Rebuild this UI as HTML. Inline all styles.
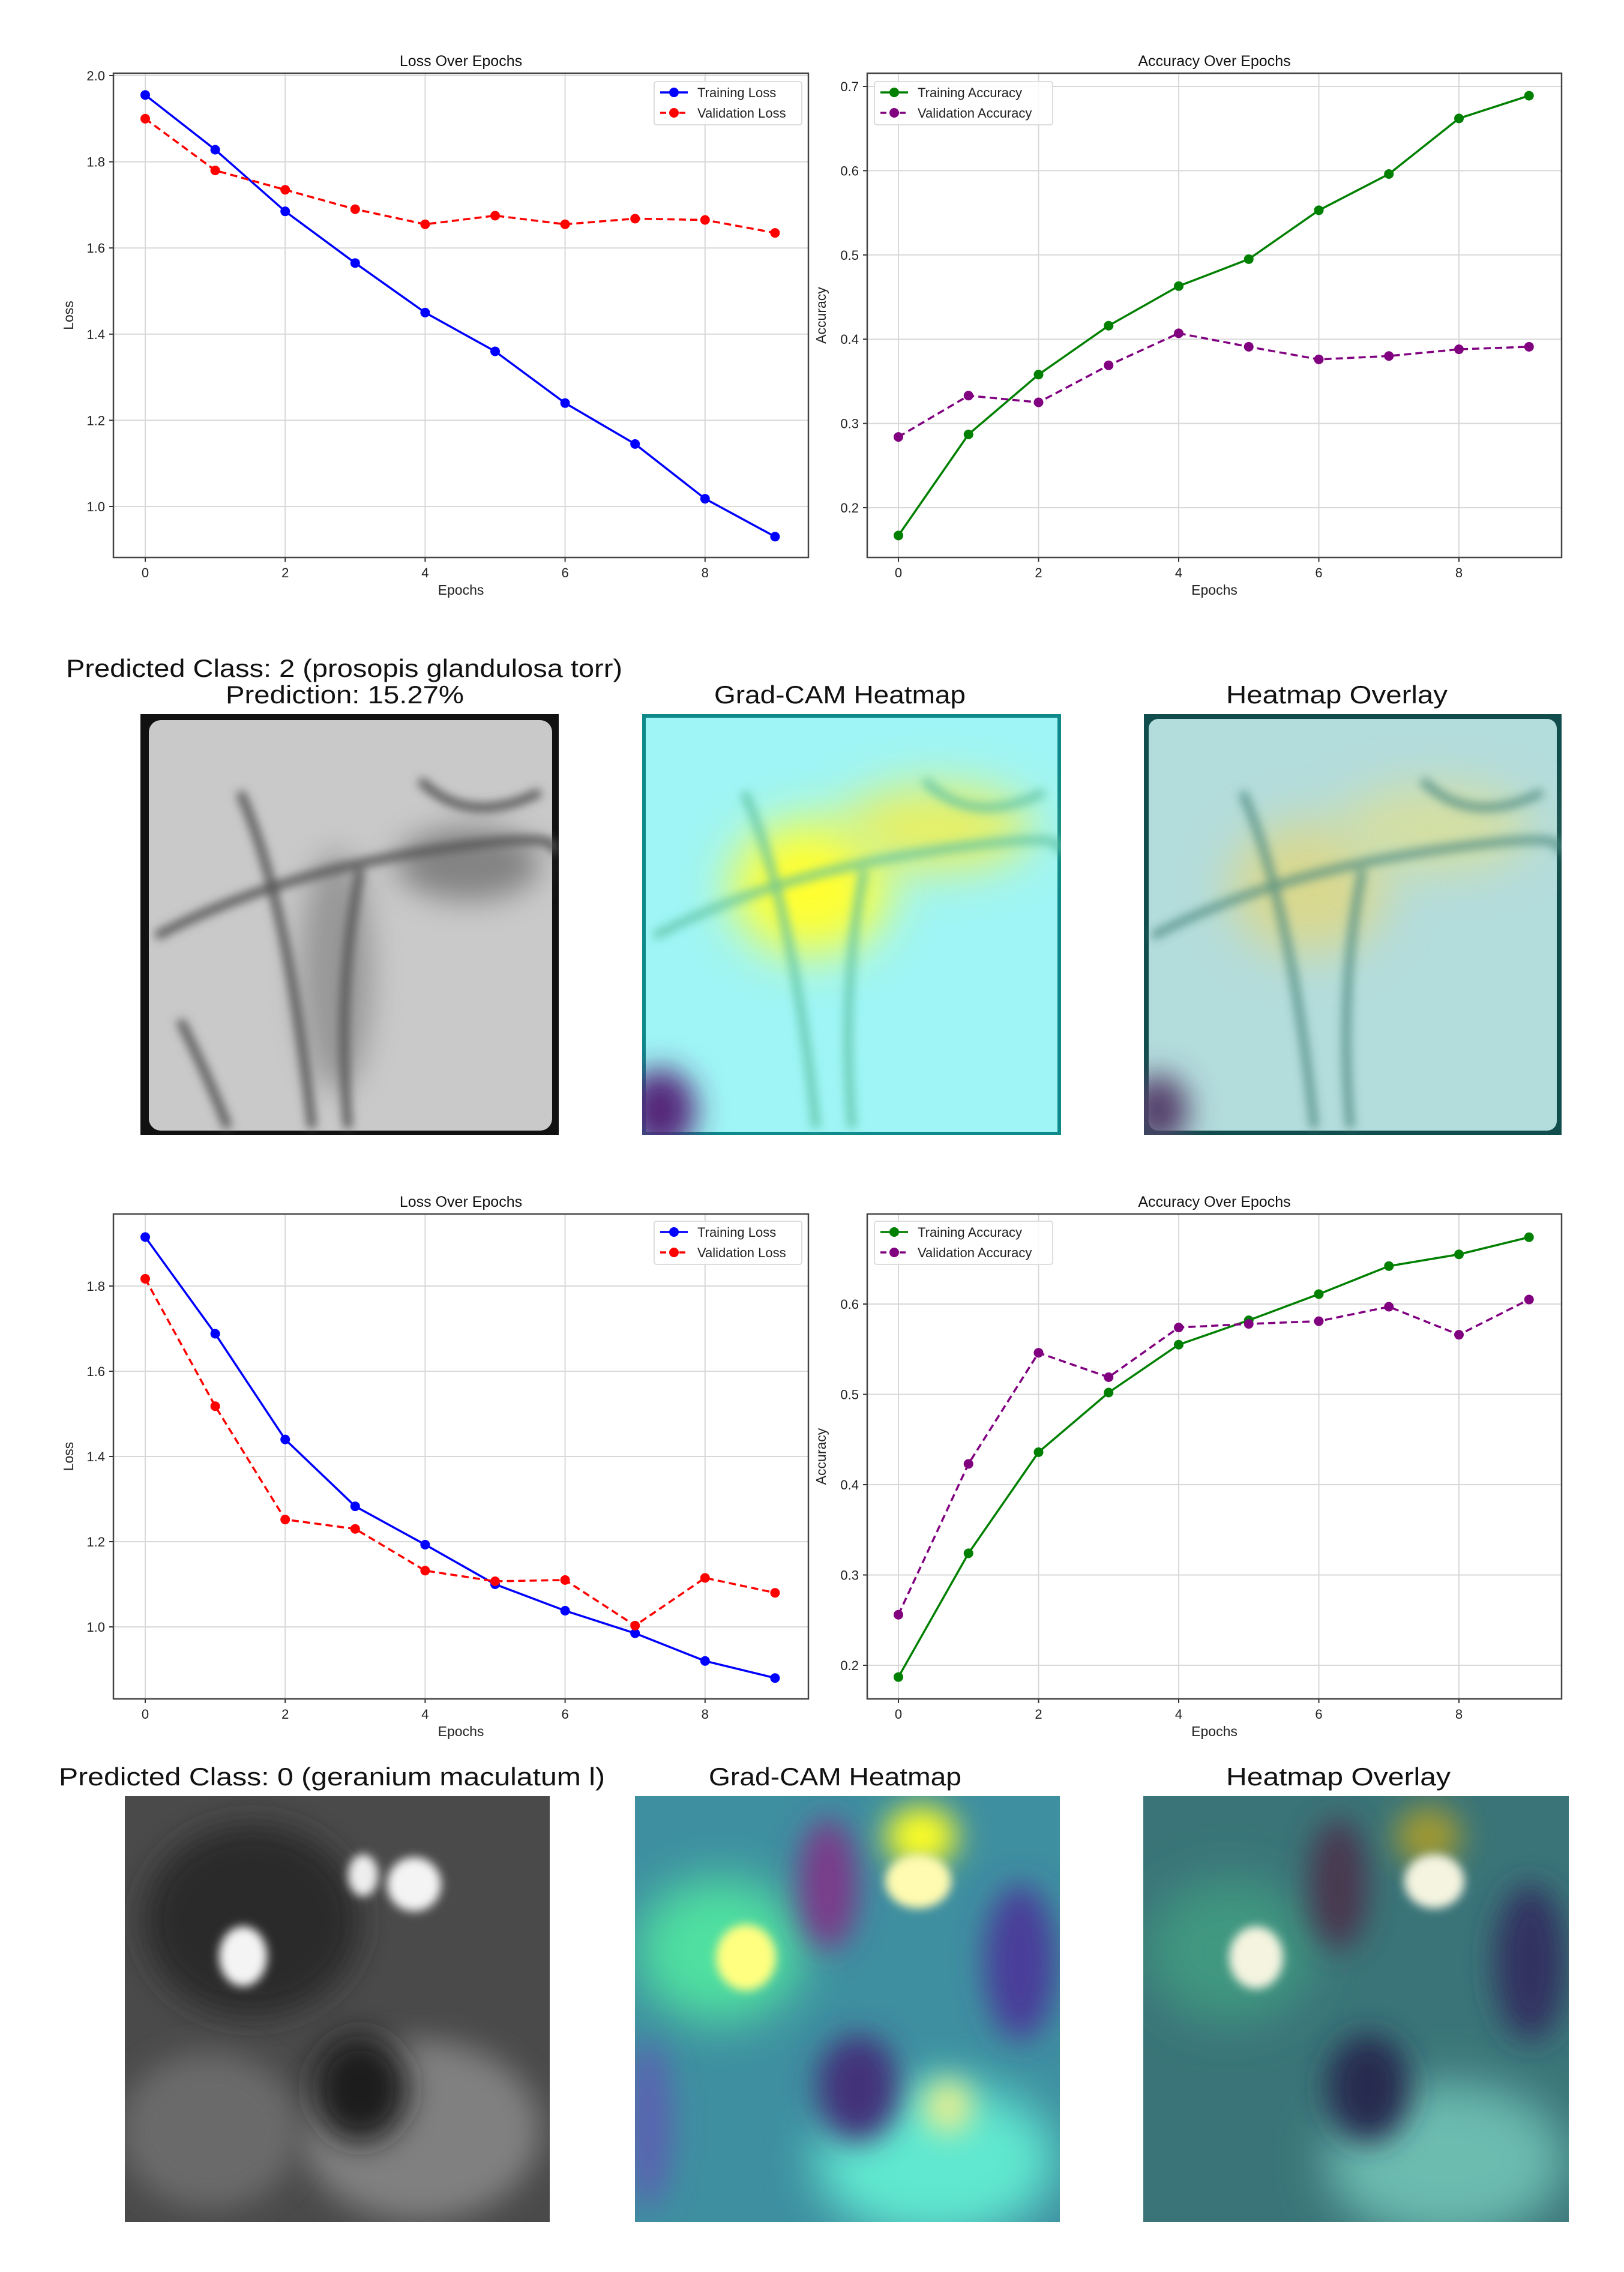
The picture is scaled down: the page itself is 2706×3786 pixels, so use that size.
<!DOCTYPE html>
<html><head><meta charset="utf-8"><style>
html,body{margin:0;padding:0;background:#fff;}
svg{display:block;font-family:"Liberation Sans","DejaVu Sans",sans-serif;}
</style></head><body>
<svg id="fig" width="2706" height="3786" viewBox="0 0 2706 3786" xmlns="http://www.w3.org/2000/svg">
<defs>
<filter id="blur8" x="-100%" y="-100%" width="300%" height="300%"><feGaussianBlur stdDeviation="8"/></filter>
<filter id="blur25" x="-100%" y="-100%" width="300%" height="300%"><feGaussianBlur stdDeviation="25"/></filter>
<filter id="blur40" x="-100%" y="-100%" width="300%" height="300%"><feGaussianBlur stdDeviation="40"/></filter>
<clipPath id="c1"><rect x="234" y="1190" width="697" height="701"/></clipPath>
<clipPath id="c2"><rect x="1070" y="1190" width="698" height="701"/></clipPath>
<clipPath id="c3"><rect x="1906" y="1190" width="696" height="701"/></clipPath>
<clipPath id="c4"><rect x="208" y="2993" width="708" height="710"/></clipPath>
<clipPath id="c5"><rect x="1058" y="2993" width="708" height="710"/></clipPath>
<clipPath id="c6"><rect x="1905" y="2993" width="709" height="710"/></clipPath>
</defs>
<g id="charts"></g>

<!-- Row 2 titles -->
<text x="110" y="1128" font-size="42" textLength="927" lengthAdjust="spacingAndGlyphs" fill="#111">Predicted Class: 2 (prosopis glandulosa torr)</text>
<text x="376" y="1172" font-size="42" textLength="397" lengthAdjust="spacingAndGlyphs" fill="#111">Prediction: 15.27%</text>
<text x="1190" y="1172" font-size="42" textLength="419" lengthAdjust="spacingAndGlyphs" fill="#111">Grad-CAM Heatmap</text>
<text x="2043" y="1172" font-size="42" textLength="369" lengthAdjust="spacingAndGlyphs" fill="#111">Heatmap Overlay</text>

<!-- Row 2 images -->
<g clip-path="url(#c1)">
<rect x="234" y="1190" width="697" height="701" fill="#111"/>
<rect x="248" y="1200" width="672" height="684" rx="20" fill="#c9c9c9"/>
<ellipse cx="780" cy="1440" rx="120" ry="60" fill="#666" filter="url(#blur25)" opacity="0.7"/>
<ellipse cx="560" cy="1620" rx="60" ry="200" fill="#777" filter="url(#blur25)" opacity="0.6"/>
<g filter="url(#blur8)" stroke="#555" fill="none" stroke-width="14">
<path d="M260 1560 Q450 1460 700 1420 T920 1420"/>
<path d="M400 1320 Q480 1500 520 1880"/>
<path d="M600 1450 Q560 1650 580 1880"/>
<path d="M700 1300 Q780 1380 900 1320"/>
<path d="M300 1700 Q350 1800 380 1880"/>
</g>
</g>
<g clip-path="url(#c2)">
<rect x="1070" y="1190" width="698" height="701" fill="#0e8a8a"/>
<rect x="1076" y="1196" width="686" height="690" fill="#9ff5f5"/>
<ellipse cx="1350" cy="1480" rx="130" ry="110" fill="#ffff33" filter="url(#blur40)"/>
<ellipse cx="1560" cy="1380" rx="160" ry="70" fill="#e8f060" filter="url(#blur40)"/>
<ellipse cx="1100" cy="1850" rx="60" ry="70" fill="#55267a" filter="url(#blur25)"/>
<g filter="url(#blur8)" stroke="#5cc0a0" fill="none" stroke-width="14" opacity="0.8">
<path d="M1090 1560 Q1280 1460 1540 1420 T1760 1420"/>
<path d="M1240 1320 Q1320 1500 1360 1880"/>
<path d="M1440 1450 Q1400 1650 1420 1880"/>
<path d="M1540 1300 Q1620 1380 1740 1320"/>
</g>
</g>
<g clip-path="url(#c3)">
<rect x="1906" y="1190" width="696" height="701" fill="#124d4d"/>
<rect x="1914" y="1198" width="680" height="686" rx="16" fill="#b3dcdc"/>
<ellipse cx="2180" cy="1480" rx="130" ry="110" fill="#d8d890" filter="url(#blur40)"/>
<ellipse cx="2390" cy="1380" rx="160" ry="70" fill="#d5dfa0" filter="url(#blur40)"/>
<ellipse cx="1930" cy="1850" rx="50" ry="60" fill="#55406a" filter="url(#blur25)"/>
<g filter="url(#blur8)" stroke="#4d8a80" fill="none" stroke-width="14" opacity="0.8">
<path d="M1920 1560 Q2110 1460 2370 1420 T2595 1420"/>
<path d="M2070 1320 Q2150 1500 2190 1880"/>
<path d="M2270 1450 Q2230 1650 2250 1880"/>
<path d="M2370 1300 Q2450 1380 2570 1320"/>
</g>
</g>

<!-- Row 4 titles -->
<text x="98" y="2975" font-size="42" textLength="910" lengthAdjust="spacingAndGlyphs" fill="#111">Predicted Class: 0 (geranium maculatum l)</text>
<text x="1181" y="2975" font-size="42" textLength="421" lengthAdjust="spacingAndGlyphs" fill="#111">Grad-CAM Heatmap</text>
<text x="2043" y="2975" font-size="42" textLength="374" lengthAdjust="spacingAndGlyphs" fill="#111">Heatmap Overlay</text>

<!-- Row 4 images -->
<g clip-path="url(#c4)">
<rect x="208" y="2993" width="708" height="710" fill="#4a4a4a"/>
<ellipse cx="420" cy="3200" rx="180" ry="160" fill="#2a2a2a" filter="url(#blur25)"/>
<ellipse cx="700" cy="3550" rx="200" ry="150" fill="#808080" filter="url(#blur25)"/>
<ellipse cx="350" cy="3550" rx="150" ry="130" fill="#6a6a6a" filter="url(#blur25)"/>
<ellipse cx="600" cy="3480" rx="80" ry="90" fill="#1c1c1c" filter="url(#blur25)"/>
<ellipse cx="690" cy="3140" rx="45" ry="45" fill="#f4f4f4" filter="url(#blur8)"/>
<ellipse cx="605" cy="3125" rx="25" ry="35" fill="#eee" filter="url(#blur8)"/>
<ellipse cx="405" cy="3260" rx="40" ry="50" fill="#f4f4f4" filter="url(#blur8)"/>
</g>
<g clip-path="url(#c5)">
<rect x="1058" y="2993" width="708" height="710" fill="#3e8fa0"/>
<ellipse cx="1200" cy="3250" rx="140" ry="120" fill="#50e0a0" filter="url(#blur40)"/>
<ellipse cx="1560" cy="3600" rx="200" ry="130" fill="#60e8d0" filter="url(#blur40)"/>
<ellipse cx="1380" cy="3140" rx="50" ry="110" fill="#7a3a8a" filter="url(#blur25)"/>
<ellipse cx="1700" cy="3270" rx="60" ry="130" fill="#4a3e9a" filter="url(#blur25)"/>
<ellipse cx="1430" cy="3480" rx="70" ry="90" fill="#42307a" filter="url(#blur25)"/>
<ellipse cx="1080" cy="3540" rx="40" ry="140" fill="#5a64b0" filter="url(#blur25)"/>
<ellipse cx="1535" cy="3060" rx="60" ry="50" fill="#ffff20" filter="url(#blur25)"/>
<ellipse cx="1530" cy="3135" rx="55" ry="45" fill="#fffbb0" filter="url(#blur8)"/>
<ellipse cx="1243" cy="3262" rx="50" ry="55" fill="#ffff80" filter="url(#blur8)"/>
<ellipse cx="1580" cy="3510" rx="40" ry="45" fill="#e8f090" filter="url(#blur25)"/>
</g>
<g clip-path="url(#c6)">
<rect x="1905" y="2993" width="709" height="710" fill="#3a7478"/>
<ellipse cx="2050" cy="3250" rx="140" ry="120" fill="#3f9880" filter="url(#blur40)"/>
<ellipse cx="2410" cy="3600" rx="200" ry="130" fill="#6cbcb0" filter="url(#blur40)"/>
<ellipse cx="2230" cy="3140" rx="50" ry="110" fill="#4a3850" filter="url(#blur25)"/>
<ellipse cx="2550" cy="3270" rx="60" ry="130" fill="#303060" filter="url(#blur25)"/>
<ellipse cx="2280" cy="3480" rx="70" ry="90" fill="#252a50" filter="url(#blur25)"/>
<ellipse cx="2380" cy="3060" rx="55" ry="50" fill="#a09a30" filter="url(#blur25)"/>
<ellipse cx="2390" cy="3135" rx="50" ry="45" fill="#f4f4e0" filter="url(#blur8)"/>
<ellipse cx="2093" cy="3262" rx="45" ry="52" fill="#f4f4e0" filter="url(#blur8)"/>
</g>
</svg>
<script>
// ---- chart data ----
const epochs = [0,1,2,3,4,5,6,7,8,9];
const xTicks = [0,2,4,6,8];
const loss1Train = [1.955,1.828,1.685,1.565,1.45,1.36,1.24,1.145,1.018,0.93];
const loss1Val = [1.90,1.78,1.735,1.69,1.655,1.675,1.655,1.668,1.665,1.635];
const loss1Ticks = [1.0,1.2,1.4,1.6,1.8,2.0];
const acc1Train = [0.167,0.287,0.358,0.416,0.463,0.495,0.553,0.596,0.662,0.689];
const acc1Val = [0.284,0.333,0.325,0.369,0.407,0.391,0.376,0.380,0.388,0.391];
const acc1Ticks = [0.2,0.3,0.4,0.5,0.6,0.7];
const loss2Train = [1.915,1.688,1.44,1.283,1.193,1.10,1.038,0.985,0.92,0.88];
const loss2Val = [1.817,1.518,1.252,1.23,1.132,1.107,1.11,1.003,1.115,1.08];
const loss2Ticks = [1.0,1.2,1.4,1.6,1.8];
const acc2Train = [0.187,0.324,0.436,0.502,0.555,0.582,0.611,0.642,0.655,0.674];
const acc2Val = [0.256,0.423,0.546,0.519,0.574,0.578,0.581,0.597,0.566,0.605];
const acc2Ticks = [0.2,0.3,0.4,0.5,0.6];

const NS = "http://www.w3.org/2000/svg";
const root = document.getElementById('charts');
function mk(tag, attrs, parent){
  const e = document.createElementNS(NS, tag);
  for (const k in attrs) e.setAttribute(k, attrs[k]);
  (parent||root).appendChild(e);
  return e;
}
function chart(cfg){
  const g = mk('g', {});
  
  
  const xs = v => cfg.x0 + v*cfg.dx;
  const ys = v => cfg.yA + (v - cfg.vA)*(cfg.yB - cfg.yA)/(cfg.vB - cfg.vA);
  xTicks.forEach(t=>{
    const l = mk('line',{x1:xs(t),x2:xs(t),y1:cfg.top,y2:cfg.bottom,stroke:'#d8d8d8','stroke-width':2},g);
    
    
    const tl = mk('text',{x:xs(t),y:cfg.bottom+33,'font-size':22,'text-anchor':'middle',fill:'#222'},g);
    tl.textContent = t;
    
    
    mk('line',{x1:xs(t),x2:xs(t),y1:cfg.bottom,y2:cfg.bottom+7,stroke:'#333','stroke-width':2},g);
  });
  cfg.ticks.forEach(t=>{
    const l = mk('line',{x1:cfg.left,x2:cfg.right,y1:ys(t),y2:ys(t),stroke:'#d8d8d8','stroke-width':2},g);
    
    
    const tl = mk('text',{x:cfg.left-14,y:ys(t)+8,'font-size':22,'text-anchor':'end',fill:'#222'},g);
    tl.textContent = t.toFixed(1);
    
    
    mk('line',{x1:cfg.left-7,x2:cfg.left,y1:ys(t),y2:ys(t),stroke:'#333','stroke-width':2},g);
  });
  const frame = mk('rect',{x:cfg.left,y:cfg.top,width:cfg.right-cfg.left,height:cfg.bottom-cfg.top,fill:'none',stroke:'#444','stroke-width':2.5},g);
  
  
  const title = mk('text',{x:(cfg.left+cfg.right)/2,y:cfg.top-12,'font-size':25,'text-anchor':'middle',fill:'#111'},g);
  title.textContent = cfg.title;
  
  
  const xl = mk('text',{x:(cfg.left+cfg.right)/2,y:cfg.bottom+62,'font-size':23,'text-anchor':'middle',fill:'#222'},g);
  xl.textContent = 'Epochs';
  
  
  const yc = (cfg.top+cfg.bottom)/2;
  const yl = mk('text',{x:cfg.ylx,y:yc,'font-size':23,'text-anchor':'middle',fill:'#222',transform:`rotate(-90 ${cfg.ylx} ${yc})`},g);
  yl.textContent = cfg.ylabel;
  
  
  cfg.series.forEach(s=>{
    const pts = s.data.map((v,i)=>xs(epochs[i])+','+ys(v)).join(' ');
    const pl = mk('polyline',{points:pts,fill:'none',stroke:s.color,'stroke-width':3.5,'stroke-dasharray':s.dash?'12,7':'none'},g);
    
    
    s.data.forEach((v,i)=>{
      const c = mk('circle',{cx:xs(epochs[i]),cy:ys(v),r:8,fill:s.color},g);
      
      
    });
  });
  const lg = mk('g',{},g);
  
  
  mk('rect',{x:cfg.lx,y:cfg.ly,width:cfg.lw,height:72,rx:4,fill:'#fff','fill-opacity':0.85,stroke:'#ddd','stroke-width':2},lg);
  cfg.series.forEach((s,k)=>{
    const yy = cfg.ly + 18 + k*34;
    mk('line',{x1:cfg.lx+10,x2:cfg.lx+56,y1:yy,y2:yy,stroke:s.color,'stroke-width':3.5,'stroke-dasharray':s.dash?'10,6':'none'},lg);
    mk('circle',{cx:cfg.lx+33,cy:yy,r:8,fill:s.color},lg);
    const t = mk('text',{x:cfg.lx+72,y:yy+8,'font-size':22,fill:'#222'},lg);
    t.textContent = s.label;
    
    
  });
}
chart({name:'loss-chart-1',title:'Loss Over Epochs',ylabel:'Loss',left:189,right:1347,top:122,bottom:929,x0:242,dx:116.6,
  yA:126,vA:2.0,yB:844,vB:1.0,ticks:loss1Ticks,ylx:122,lx:1090,ly:136,lw:246,
  series:[{key:'training-loss',label:'Training Loss',data:loss1Train,color:'#0000ff'},{key:'validation-loss',label:'Validation Loss',data:loss1Val,color:'#ff0000',dash:true}]});
chart({name:'accuracy-chart-1',title:'Accuracy Over Epochs',ylabel:'Accuracy',left:1445,right:2602,top:122,bottom:929,x0:1497,dx:116.75,
  yA:144,vA:0.7,yB:846,vB:0.2,ticks:acc1Ticks,ylx:1376,lx:1457,ly:136,lw:297,
  series:[{key:'training-accuracy',label:'Training Accuracy',data:acc1Train,color:'#008000'},{key:'validation-accuracy',label:'Validation Accuracy',data:acc1Val,color:'#800080',dash:true}]});
chart({name:'loss-chart-2',title:'Loss Over Epochs',ylabel:'Loss',left:189,right:1347,top:2023,bottom:2831,x0:242,dx:116.6,
  yA:2143,vA:1.8,yB:2711,vB:1.0,ticks:loss2Ticks,ylx:122,lx:1090,ly:2035,lw:246,
  series:[{key:'training-loss',label:'Training Loss',data:loss2Train,color:'#0000ff'},{key:'validation-loss',label:'Validation Loss',data:loss2Val,color:'#ff0000',dash:true}]});
chart({name:'accuracy-chart-2',title:'Accuracy Over Epochs',ylabel:'Accuracy',left:1445,right:2602,top:2023,bottom:2831,x0:1497,dx:116.75,
  yA:2173,vA:0.6,yB:2775,vB:0.2,ticks:acc2Ticks,ylx:1376,lx:1457,ly:2035,lw:297,
  series:[{key:'training-accuracy',label:'Training Accuracy',data:acc2Train,color:'#008000'},{key:'validation-accuracy',label:'Validation Accuracy',data:acc2Val,color:'#800080',dash:true}]});
</script>
</body></html>
